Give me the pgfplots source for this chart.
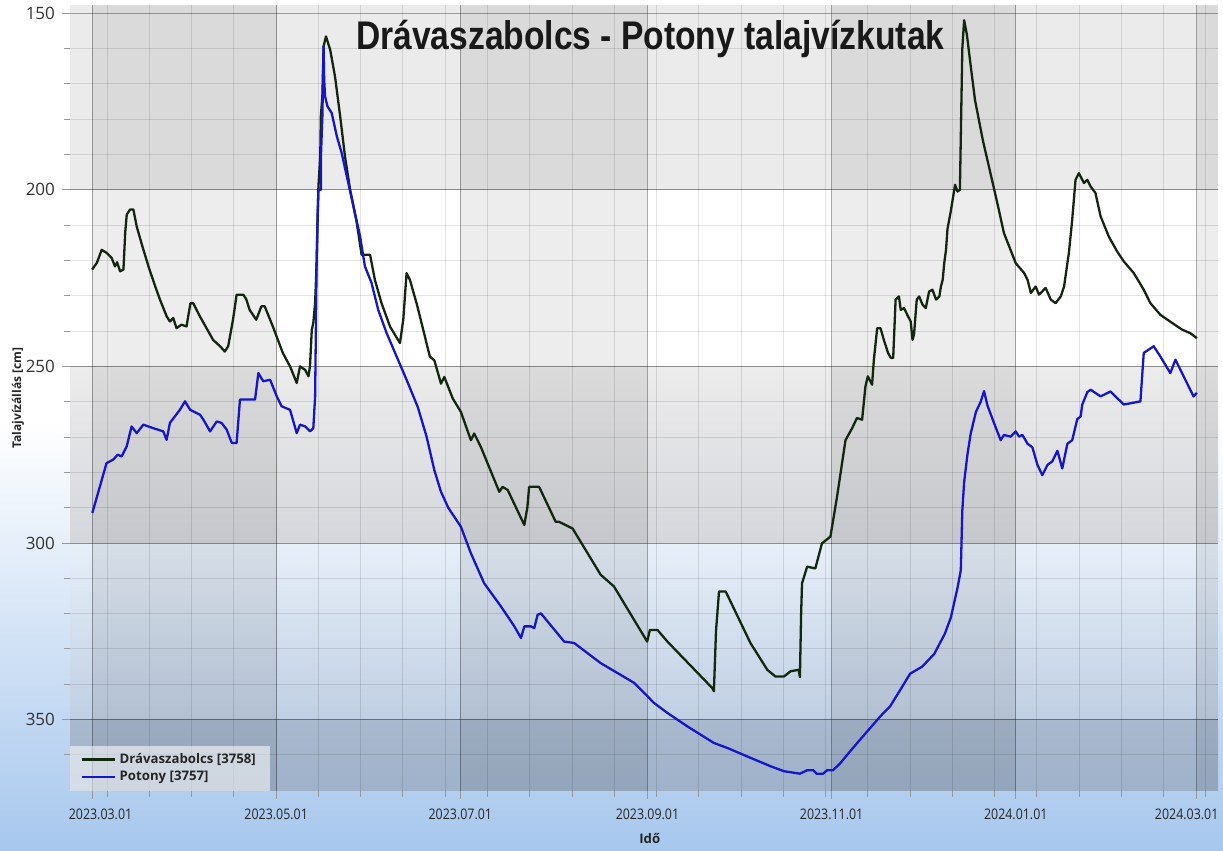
\documentclass[border=0pt]{standalone}
\usepackage{fontspec}
\setmainfont{Open Sans}
\newfontfamily\titlefont{Liberation Sans}
\usepackage{pgfplots}
\pgfplotsset{compat=1.18}
\pgfdeclarelayer{outerbg}
\pgfplotsset{
  layers/mylayers/.define layer set={outerbg,axis background,axis grid,axis ticks,axis lines,axis tick labels,pre main,main,axis descriptions,axis foreground}{},
}
\definecolor{gline}{RGB}{18,40,14}
\definecolor{bline}{RGB}{22,22,200}
\definecolor{bgblue}{RGB}{167,199,237}
\definecolor{rowA}{RGB}{235,235,235}
\definecolor{rowCt}{RGB}{236,236,236}
\definecolor{rowCb}{RGB}{213,215,220}
\definecolor{rowDt}{RGB}{231,239,249}
\definecolor{rowDb}{RGB}{192,207,227}
\definecolor{rowEt}{RGB}{169,185,206}
\definecolor{rowEb}{RGB}{159,178,202}
\begin{document}
\begin{tikzpicture}
\begin{axis}[
  set layers=mylayers,
  at={(35pt,30pt)}, anchor=south west,
  width=574pt, height=393pt, scale only axis,
  xmin=-7.3, xmax=373, ymin=147.7, ymax=370.2, y dir=reverse,
  axis line style={draw=none},
  xtick={0,61,122,184,245,306,366},
  xticklabels={\hspace*{10pt}2023.03.01,2023.05.01,2023.07.01,2023.09.01,2023.11.01,2024.01.01,2024.03.01\hspace*{12pt}},
  minor xtick={5,19,...,369},
  ytick={150,200,250,300,350},
  yticklabels={150,200,250,300,350},
  minor ytick={160,170,...,360},
  grid=both,
  major grid style={black, opacity=0.33, line width=0.5pt},
  minor grid style={black, opacity=0.11, line width=0.5pt},
  xtick pos=bottom, ytick pos=left,
  tick align=outside,
  major tick length=4pt, minor tick length=3pt,
  tick style={black!40, line width=0.5pt},
  xticklabel style={font=\fontsize{7.3}{8}\selectfont, text=black!85, xscale=0.85, yshift=-1.5pt},
  yticklabel style={font=\fontsize{8.5}{9}\selectfont, text=black!80},
  /pgf/number format/assume math mode=true,
  ylabel={Talajvízállás [cm]},
  ylabel style={at={(axis description cs:-0.0453,0.5)}, anchor=center, font=\bfseries\fontsize{6}{7}\selectfont, text=black!85},
  xlabel={Idő},
  xlabel style={at={(axis description cs:0.505,-0.06)}, anchor=center, font=\bfseries\fontsize{6.6}{7}\selectfont, text=black!85},
  title={\scalebox{0.84}[1]{\titlefont\bfseries\fontsize{20}{20}\selectfont Drávaszabolcs - Potony talajvízkutak}},
  title style={at={(axis description cs:0.5055,0.944)}, anchor=base, yshift=-6pt, text=black!90},
  legend style={at={(axis description cs:0,0)}, anchor=south west, draw=none, fill=white, fill opacity=0.55, text opacity=1, inner xsep=5pt, inner ysep=1.5pt, font=\bfseries\fontsize{6.6}{7}\selectfont, text=black!85, row sep=-1.5pt},
  legend cell align=left,
  legend image code/.code={\draw[#1] (0pt,0pt) -- (16.5pt,0pt);},
]
\begin{pgfonlayer}{outerbg}
\fill[white] (axis description cs:0,0) ++(-35pt,-30pt) rectangle ++(611.5pt,425.5pt);
\fill[top color=white, bottom color=bgblue] (axis description cs:0,0) ++(-35pt,-30pt) rectangle ++(611.5pt,215pt);
\end{pgfonlayer}
% background rows
\addplot[forget plot, on layer=axis background, draw=none, fill=rowA] coordinates {(-7.3,147.7) (373,147.7) (373,200) (-7.3,200)};
\addplot[forget plot, on layer=axis background, draw=none, fill=white] coordinates {(-7.3,200) (373,200) (373,250) (-7.3,250)};
\addplot[forget plot, on layer=axis background, draw=none, top color=rowCt, bottom color=rowCb] coordinates {(-7.3,250) (373,250) (373,300) (-7.3,300)};
\addplot[forget plot, on layer=axis background, draw=none, top color=rowDt, bottom color=rowDb] coordinates {(-7.3,300) (373,300) (373,350) (-7.3,350)};
\addplot[forget plot, on layer=axis background, draw=none, top color=rowEt, bottom color=rowEb] coordinates {(-7.3,350) (373,350) (373,370.2) (-7.3,370.2)};
% darker columns
\addplot[forget plot, on layer=axis background, draw=none, fill=black, fill opacity=0.07] coordinates {(0,147.7) (61,147.7) (61,370.2) (0,370.2)};
\addplot[forget plot, on layer=axis background, draw=none, fill=black, fill opacity=0.07] coordinates {(122,147.7) (184,147.7) (184,370.2) (122,370.2)};
\addplot[forget plot, on layer=axis background, draw=none, fill=black, fill opacity=0.07] coordinates {(245,147.7) (306,147.7) (306,370.2) (245,370.2)};
\addplot[forget plot, on layer=axis background, draw=none, fill=black, fill opacity=0.07] coordinates {(366,147.7) (373,147.7) (373,370.2) (366,370.2)};

% Drávaszabolcs [3758]
\addplot[gline, line width=1.15pt, line join=round] coordinates {
(0,222.6) (1.6,220.7) (3.2,217) (4.9,217.9) (6.5,219.3) (7.6,221.7) (8.3,220.5) (9.3,223.1) (10.4,222.6)
(11.0,212) (11.5,207) (12.6,205.6) (13.7,205.6) (14.8,210.4) (16.5,215.5) (18.7,221.7) (20.9,227.3)
(22.5,231.1) (24.7,235.8) (25.8,237.3) (26.9,236.3) (28,239.2) (29.6,238.2) (31.3,238.7) (32.6,232.1)
(33.5,232.1) (35.7,235.8) (40.1,242.5) (42.4,244.3) (44,245.8) (45.1,244.3) (46.7,236.8) (47.9,229.7)
(50.1,229.7) (51.1,231) (52.2,234) (54.4,236.8) (56.1,233) (57.2,233) (59.9,238.7) (63.2,246.2)
(65.6,250) (67.8,254.7) (68.9,250) (70.6,251) (71.7,252.8) (72.2,250) (72.8,239.6) (73.3,237.7)
(73.9,232.1) (74.4,220.8) (75,199) (75.6,190.6) (75.8,179.2) (76.3,173.6) (76.7,159.4) (77.5,156.6)
(78.9,160.4) (80.5,168) (82.2,179.2) (83.8,190.6) (85.5,200) (87.7,209.4) (89.3,218.4) (92.1,218.4)
(93.7,225.5) (95.9,232.1) (98.7,238.7) (102,243.4) (103.1,236.8) (104.2,223.6) (105.3,225.5)
(107.5,232.1) (109.7,239.6) (111.9,247.2) (113.4,248.3) (115.6,254.9) (116.7,253) (119.5,259.1)
(122.2,262.9) (125.5,270.9) (126.6,269) (128.8,272.8) (134.9,285.5) (136,284.1) (137.7,285)
(143.2,294.9) (144.2,290) (144.8,284.1) (148.1,284.1) (153.6,294) (154.7,294) (159.2,295.9)
(168.5,309) (172.9,312.3) (183.9,327.9) (184.8,324.6) (187.3,324.6) (190.6,327.9) (205.5,341.1)
(206,342) (206.7,325) (207.7,313.7) (209.9,313.7) (218.1,328.3) (223.7,335.9) (226.4,337.8)
(229.2,337.8) (231.4,336.3) (234.1,335.9) (234.5,338) (234.9,320) (235.2,311.4) (236.9,306.7)
(239.6,307.2) (241.8,300.1) (244.6,298.2) (246.8,286.9) (249.6,270.9) (251.8,267.5) (253.4,264.6)
(255.1,265.1) (256.2,255.7) (257,252.8) (258.4,255.2) (259,248.1) (260.1,239.2) (261.2,239.2)
(262.3,242.5) (263.7,246.2) (264.6,247.6) (265.4,247.6) (266.2,231.1) (267.3,230.2) (267.9,234)
(269,233.5) (270.3,235.8) (271.2,237.3) (271.8,242.5) (272.3,241) (273.2,231.1) (274,230.2)
(275.1,232.5) (276.2,233.5) (277.3,228.8) (278.4,228.3) (279.6,231.1) (280.7,230.2) (281.2,227.4)
(281.8,225.5) (282.3,220.8) (282.9,217) (283.4,211) (284.5,206) (285.9,198.6) (286.7,200.5)
(287.5,200) (287.9,180) (288.3,160) (288.9,152) (289.8,156) (290.8,163) (292.5,174.6) (295.1,186)
(297.4,194.5) (299.9,203.8) (302.1,212.3) (303.8,216) (306,220.8) (308.8,223.6) (309.9,225.5)
(311,229.2) (312.6,227.4) (313.7,229.7) (315.9,227.8) (317.6,231.1) (319.2,232.1) (320.9,230.2)
(322,227.4) (323.6,217.9) (324.7,208.5) (325.8,197.2) (326.9,195.3) (328.6,198.1) (329.7,197.2)
(330.8,199.1) (332.4,200.9) (334.1,207.5) (336.8,213.2) (339.6,217.5) (341.8,220.3) (345.1,223.6)
(348.4,228.3) (350.6,232.1) (353.9,235.4) (357.8,237.7) (361.1,239.6) (363.8,240.6) (366,242)
};
\addlegendentry{Drávaszabolcs [3758]}

% Potony [3757]
\addplot[bline, line width=1.15pt, line join=round] coordinates {
(0.1,291.5) (2.6,284) (4.8,277.4) (7,276.4) (8.5,275) (9.8,275.5) (11.5,272.6) (13.1,267) (14.8,268.9)
(17,266.5) (20.3,267.5) (23.6,268.4) (24.7,270.8) (25.8,266) (29.1,262.3) (30.8,259.9) (32.5,262.3)
(35.8,263.7) (36.9,265.1) (39.1,268.4) (41.3,265.6) (42.9,266) (44.6,267.9) (46.3,271.7) (47.9,271.7)
(49,259.4) (54,259.4) (55.1,251.9) (56.7,254.2) (59,253.8) (61.2,258.5) (62.8,261.3) (65.6,262.3)
(67.8,268.9) (68.9,266.5) (70.6,267) (72.2,268.4) (73.3,267.5) (73.9,258.5) (74.4,220.8) (74.7,207.5)
(75,200) (75.8,200) (75.85,190) (76.3,179.2) (76.7,159.4) (76.9,168.9) (77.2,173.6) (78,176.4)
(79.4,178.3) (81.1,184.9) (82.7,189.6) (84.4,196.2) (86.6,204.7) (88.8,213.2) (90.4,221.7)
(92.6,226.4) (94.8,234) (97.6,240.6) (100.9,247.2) (104.2,253.8) (107.9,261.5) (110.8,269.8)
(113.4,279.4) (115.6,285.5) (118,290) (122.2,295.4) (125.5,302.9) (129.9,311.4) (135.5,318)
(139.9,323.6) (142.1,326.9) (143.2,323.6) (145.4,323.6) (146.5,324.1) (147.6,320.3) (148.7,319.9)
(150.9,322.2) (156.4,327.9) (159.7,328.3) (168.5,334) (179.6,339.6) (186.2,345.3) (190.6,348.1)
(197.2,351.9) (206,356.6) (210.4,358) (218.1,360.8) (224.8,363.2) (229.2,364.6) (234.5,365.3)
(237,364.3) (238.9,364.3) (240,365.3) (242.2,365.3) (243.5,364.3) (245.5,364.3) (247.8,362.4)
(251.1,359) (254.5,355.6) (261.1,349.1) (264.4,346.2) (267.8,341.5) (271,337) (275,335) (279,331.4)
(282.5,325.7) (284.5,321.1) (286.7,312.7) (287.8,307.7) (288.3,290.8) (288.9,282.8) (290,274.9)
(291.1,268.9) (292.8,262.9) (294.4,260) (295.5,257) (296.6,261) (298.3,264.9) (301,270.9)
(302.1,269.4) (304.3,269.9) (306,268.4) (307.1,269.9) (308.2,269.4) (309.9,271.9) (311.5,272.9)
(313.2,277.9) (314.8,280.8) (316.5,277.9) (318.1,276.9) (319.8,273.9) (321.4,278.9) (323.1,271.9)
(324.7,270.9) (326.4,264.9) (327.5,264.2) (328,260.9) (329.7,257.3) (330.8,256.6) (334.1,258.5)
(337.4,257.1) (340.1,259.4) (341.8,260.8) (347.3,259.9) (348.4,246.2) (351.7,244.3) (353.9,247.2)
(357.2,251.9) (358.9,248.1) (361.6,252.8) (364.9,258.5) (366,257.5)
};
\addlegendentry{Potony [3757]}
\end{axis}
\pgfresetboundingbox
\path[use as bounding box] (0,0) rectangle (611.5pt,425.5pt);
\end{tikzpicture}
\end{document}
